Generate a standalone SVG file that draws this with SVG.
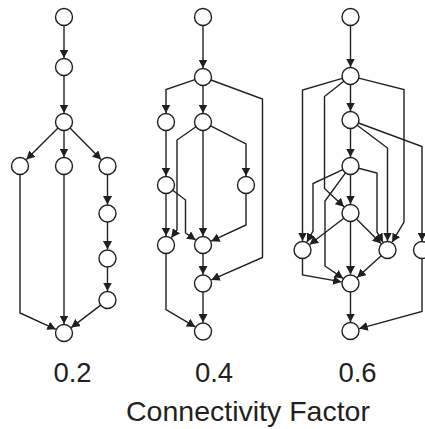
<svg xmlns="http://www.w3.org/2000/svg" width="425" height="429" viewBox="0 0 425 429">
<style>
.n{fill:#fff;stroke:#231f20;stroke-width:1.4}
.e{fill:none;stroke:#231f20;stroke-width:1.4;marker-end:url(#ah)}
.t{font-family:"Liberation Sans",Arial,sans-serif;fill:#231f20;text-anchor:middle}
</style>
<defs>
<marker id="ah" markerUnits="userSpaceOnUse" viewBox="0 0 8.5 9" refX="8.5" refY="4.5" markerWidth="8.5" markerHeight="9" orient="auto">
<path d="M0,0 L8.5,4.5 L0,9 z" fill="#231f20"/>
</marker>
</defs>
<rect width="425" height="429" fill="#fff"/>
<g id="connectors">
<!-- graph 1 -->
<path class="e" d="M64,25.5 L64,58"/>
<path class="e" d="M64,75.5 L64,113"/>
<path class="e" d="M58,128 L26.4,159.6"/>
<path class="e" d="M64,130.5 L64,157"/>
<path class="e" d="M70,128 L101.1,159.6"/>
<path class="e" d="M107.5,174.5 L107.5,204.5"/>
<path class="e" d="M107.5,222 L107.5,249.5"/>
<path class="e" d="M107.5,267 L107.5,291"/>
<path class="e" d="M20,174.5 L20,313 L55.8,329.3"/>
<path class="e" d="M64,174.5 L64,324"/>
<path class="e" d="M100.7,305.1 L71.2,327.6"/>
<!-- graph 2 -->
<path class="e" d="M203,25.5 L203,68"/>
<path class="e" d="M194.9,79.7 L166,89.5 L166,113"/>
<path class="e" d="M203,85.5 L203,113"/>
<path class="e" d="M211,80 L262.5,99 L262.5,257.5 L211.3,279.9"/>
<path class="e" d="M166,130.5 L166,176"/>
<path class="e" d="M203,130.5 L203,236"/>
<path class="e" d="M196,126.8 L177,140 L177,230 L171.3,237.7"/>
<path class="e" d="M210.6,125.9 L246,144 L246,176"/>
<path class="e" d="M166,193.5 L166,236"/>
<path class="e" d="M172.7,190.2 L185.5,200 L185.5,233 L195.6,239.9"/>
<path class="e" d="M246,193.5 L246,225 L211.2,241.2"/>
<path class="e" d="M203,253.5 L203,274.5"/>
<path class="e" d="M203,292 L203,322.5"/>
<path class="e" d="M166,253.5 L166,309.5 L195.3,326.9"/>
<!-- graph 3 -->
<path class="e" d="M350.5,25.5 L350.5,67"/>
<path class="e" d="M350.5,84.5 L350.5,111"/>
<path class="e" d="M350.5,128.5 L350.5,157"/>
<path class="e" d="M350.5,174.5 L350.5,204"/>
<path class="e" d="M350.5,221.5 L350.5,274.5"/>
<path class="e" d="M350.5,292 L350.5,322"/>
<path class="e" d="M342.3,78.4 L302.5,90 L302.5,241"/>
<path class="e" d="M343.8,81.3 L324.5,96.5 L324.5,188.5 L344,206.8"/>
<path class="e" d="M358.7,78.1 L404,89.5 L404,222 L392.1,242.2"/>
<path class="e" d="M357.2,125.2 L387.5,148 L387.5,241"/>
<path class="e" d="M358.5,123 L422,146.5 L422,241"/>
<path class="e" d="M342.8,169.6 L313,183.5 L313,231 L306.9,242.1"/>
<path class="e" d="M345.5,172.9 L325,201 L325,266 L343.1,278.4"/>
<path class="e" d="M358.7,168.2 L377,173 L377,232 L383,242.2"/>
<path class="e" d="M343.8,218.2 L309.6,244.5"/>
<path class="e" d="M356.5,219 L381.1,243.6"/>
<path class="e" d="M302.5,258.5 L302.5,275 L341.6,281.9"/>
<path class="e" d="M381.2,255.7 L357.2,277.5"/>
<path class="e" d="M422,258.5 L422,311.5 L359.2,328.6"/>
</g>
<g id="g1a"><circle class="n" cx="64" cy="17" r="8.5"/></g>
<g id="g1b"><circle class="n" cx="64" cy="67" r="8.5"/></g>
<g id="g1c"><circle class="n" cx="64" cy="122" r="8.5"/></g>
<g id="g1d1"><circle class="n" cx="20" cy="166" r="8.5"/></g>
<g id="g1d2"><circle class="n" cx="64" cy="166" r="8.5"/></g>
<g id="g1d3"><circle class="n" cx="107.5" cy="166" r="8.5"/></g>
<g id="g1e"><circle class="n" cx="107.5" cy="213.5" r="8.5"/></g>
<g id="g1f"><circle class="n" cx="107.5" cy="258.5" r="8.5"/></g>
<g id="g1g"><circle class="n" cx="107.5" cy="300" r="8.5"/></g>
<g id="g1h"><circle class="n" cx="64" cy="333" r="8.5"/></g>
<g id="g2a"><circle class="n" cx="203" cy="17" r="8.5"/></g>
<g id="g2b"><circle class="n" cx="203" cy="77" r="8.5"/></g>
<g id="g2cl"><circle class="n" cx="166" cy="122" r="8.5"/></g>
<g id="g2cm"><circle class="n" cx="203" cy="122" r="8.5"/></g>
<g id="g2dl"><circle class="n" cx="166" cy="185" r="8.5"/></g>
<g id="g2dr"><circle class="n" cx="246" cy="185" r="8.5"/></g>
<g id="g2el"><circle class="n" cx="166" cy="245" r="8.5"/></g>
<g id="g2em"><circle class="n" cx="203" cy="245" r="8.5"/></g>
<g id="g2f"><circle class="n" cx="203" cy="283.5" r="8.5"/></g>
<g id="g2g"><circle class="n" cx="203" cy="331.5" r="8.5"/></g>
<g id="g3a"><circle class="n" cx="350.5" cy="17" r="8.5"/></g>
<g id="g3b"><circle class="n" cx="350.5" cy="76" r="8.5"/></g>
<g id="g3c"><circle class="n" cx="350.5" cy="120" r="8.5"/></g>
<g id="g3d"><circle class="n" cx="350.5" cy="166" r="8.5"/></g>
<g id="g3e"><circle class="n" cx="350.5" cy="213" r="8.5"/></g>
<g id="g3fl"><circle class="n" cx="302.5" cy="250" r="8.5"/></g>
<g id="g3fr"><circle class="n" cx="387.5" cy="250" r="8.5"/></g>
<g id="g3frr"><circle class="n" cx="422" cy="250" r="8.5"/></g>
<g id="g3g"><circle class="n" cx="350.5" cy="283.5" r="8.5"/></g>
<g id="g3h"><circle class="n" cx="350.5" cy="331" r="8.5"/></g>
<g id="labels">
<text class="t" x="72.5" y="382" font-size="27.5">0.2</text>
<text class="t" x="214" y="382" font-size="27.5">0.4</text>
<text class="t" x="357.5" y="382" font-size="27.5">0.6</text>
<text class="t" x="248" y="421" font-size="28.5">Connectivity Factor</text>
</g>
</svg>
